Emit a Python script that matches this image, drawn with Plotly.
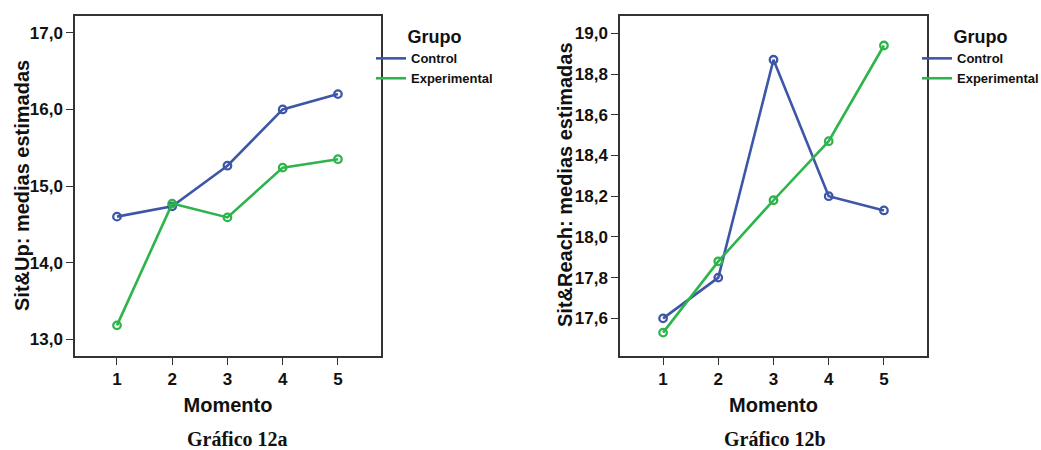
import plotly.graph_objects as go

momento = [1, 2, 3, 4, 5]
tick_text = ["1", "2", "3", "4", "5"]

situp_control = [14.60, 14.735, 15.265, 16.00, 16.20]
situp_experimental = [13.18, 14.77, 14.59, 15.24, 15.35]

reach_control = [17.60, 17.80, 18.87, 18.20, 18.13]
reach_experimental = [17.53, 17.88, 18.18, 18.47, 18.94]

situp_ticks = [13.0, 14.0, 15.0, 16.0, 17.0]
situp_ticklabels = ["13,0", "14,0", "15,0", "16,0", "17,0"]
reach_ticks = [17.6, 17.8, 18.0, 18.2, 18.4, 18.6, 18.8, 19.0]
reach_ticklabels = ["17,6", "17,8", "18,0", "18,2", "18,4", "18,6", "18,8", "19,0"]

BLUE = "#3E56A8"
GREEN = "#2DB44B"
W, H = 1041, 450
SANS = "Liberation Sans, Arial, sans-serif"
SERIF = "Liberation Serif, Times New Roman, serif"

fig = go.Figure()

def add_series(y, color, xa, ya):
    fig.add_trace(go.Scatter(
        x=momento, y=y, mode="lines+markers", xaxis=xa, yaxis=ya,
        line=dict(color=color, width=2.6),
        marker=dict(symbol="circle-open", size=7.5, color=color, line=dict(width=2.3, color=color)),
        showlegend=False, hoverinfo="x+y",
    ))

add_series(situp_control, BLUE, "x", "y")
add_series(situp_experimental, GREEN, "x", "y")
add_series(reach_control, BLUE, "x2", "y2")
add_series(reach_experimental, GREEN, "x2", "y2")

# legend-only entries
for leg, xa, ya in [("legend", "x", "y"), ("legend2", "x2", "y2")]:
    for name, color in [("Control", BLUE), ("Experimental", GREEN)]:
        fig.add_trace(go.Scatter(
            x=[None], y=[None], mode="lines", name=name, xaxis=xa, yaxis=ya,
            line=dict(color=color, width=2.6), legend=leg, showlegend=True,
        ))

axis_common = dict(
    showline=True, linecolor="#333333", linewidth=1.5, mirror=True,
    ticks="outside", ticklen=7, tickwidth=1.2, tickcolor="#333333",
    showgrid=False, zeroline=False, automargin=False,
    tickfont=dict(family=SANS, size=17, color="#111111", weight="bold"),
)

def px_x(v):
    return v / W

def px_y(v):
    return 1 - v / H

title_font = dict(family=SANS, size=20, color="#111111", weight="bold")
legend_title_font = dict(family=SANS, size=18, color="#111111", weight="bold")
legend_font = dict(family=SANS, size=13, color="#111111", weight="bold")

fig.update_layout(
    width=W, height=H,
    margin=dict(l=0, r=0, t=0, b=0, autoexpand=False),
    paper_bgcolor="white", plot_bgcolor="white",
    xaxis=dict(domain=[px_x(75), px_x(381)], range=[0.24, 5.78], tickvals=momento, ticktext=tick_text,
               title=dict(text="Momento", font=title_font, standoff=10),
               anchor="y", **axis_common),
    yaxis=dict(domain=[px_y(356), px_y(16)], range=[12.78, 17.22], tickvals=situp_ticks, ticktext=situp_ticklabels,
               anchor="x", **axis_common),
    xaxis2=dict(domain=[px_x(620), px_x(927)], range=[0.22, 5.78], tickvals=momento, ticktext=tick_text,
                title=dict(text="Momento", font=title_font, standoff=10),
                anchor="y2", **axis_common),
    yaxis2=dict(domain=[px_y(356), px_y(16)], range=[17.415, 19.085], tickvals=reach_ticks, ticktext=reach_ticklabels,
                anchor="x2", **axis_common),
    legend=dict(
        x=px_x(371), y=px_y(20), xanchor="left", yanchor="top",
        title=dict(text="Grupo", side="top center", font=legend_title_font),
        font=legend_font,
        bgcolor="rgba(0,0,0,0)", tracegroupgap=0, itemwidth=30,
    ),
    legend2=dict(
        x=px_x(917), y=px_y(20), xanchor="left", yanchor="top",
        title=dict(text="Grupo", side="top center", font=legend_title_font),
        font=legend_font,
        bgcolor="rgba(0,0,0,0)", tracegroupgap=0, itemwidth=30,
    ),
    annotations=[
        dict(text="Sit&Up: medias estimadas", x=px_x(22), y=px_y(186), xref="paper", yref="paper",
             showarrow=False, xanchor="center", yanchor="middle", textangle=-90, font=title_font),
        dict(text="Sit&Reach: medias estimadas", x=px_x(565), y=px_y(185), xref="paper", yref="paper",
             showarrow=False, xanchor="center", yanchor="middle", textangle=-90, font=title_font),
        dict(text="Gráfico 12a", x=px_x(237), y=px_y(439), xref="paper", yref="paper",
             showarrow=False, xanchor="center", yanchor="middle",
             font=dict(family=SERIF, size=20, color="#111111", weight="bold")),
        dict(text="Gráfico 12b", x=px_x(775), y=px_y(439), xref="paper", yref="paper",
             showarrow=False, xanchor="center", yanchor="middle",
             font=dict(family=SERIF, size=20, color="#111111", weight="bold")),
    ],
)

fig.write_html("out.html")
